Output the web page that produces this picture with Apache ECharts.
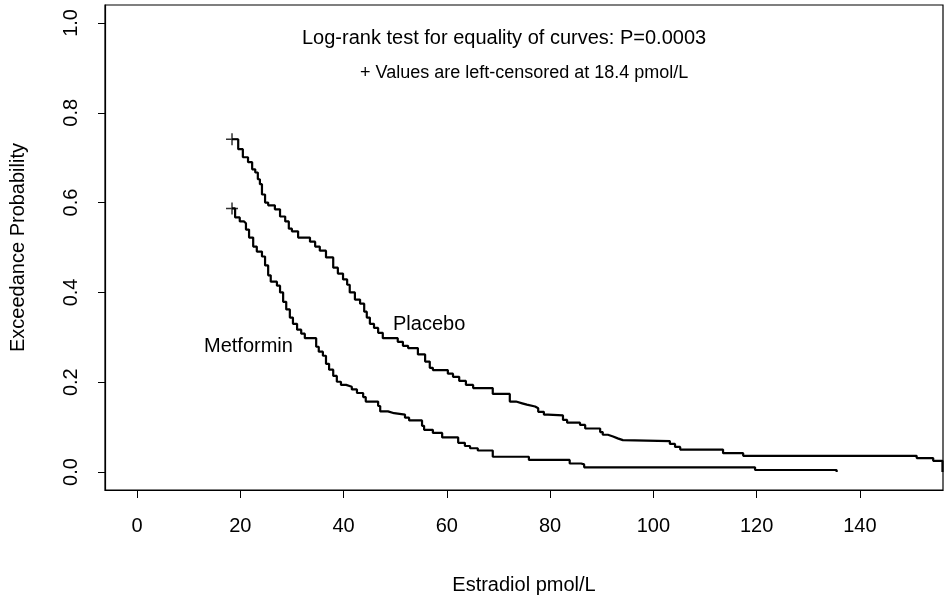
<!DOCTYPE html>
<html>
<head>
<meta charset="utf-8">
<script src="https://cdn.jsdelivr.net/npm/echarts@6/dist/echarts.min.js"></script>
<style>
  html, body { margin: 0; padding: 0; background: #fff; }
  #chart { width: 947px; height: 607px; }
</style>
</head>
<body>
<div id="chart"></div>
<script>
// values (step points: value holds until the next x)
var placeboX = [18.4, 19.6, 20.5, 21.5, 22.3, 22.9, 23.4, 23.8, 24.2, 24.8, 25.4, 26.7, 27.7, 28.7, 29.4, 30.0, 31.2,
    33.5, 34.5, 35.4, 36.6, 38.0, 38.9, 39.9, 40.7, 41.2, 42.2, 43.2, 44.0, 44.5, 45.1, 45.9, 46.7, 47.6,
    50.5, 51.5, 52.5, 54.4, 55.8, 56.7, 57.3, 60.2, 61.2, 62.4, 63.7, 65.1, 68.9, 72.2, 73.4, 74.6, 75.5,
    77.1, 77.7, 78.8, 79.6, 82.5, 83.3, 85.8, 86.8, 89.7, 90.2, 91.2, 92.2, 93.1, 94.1, 103.2, 104.2, 105.2,
    113.5, 117.4, 151.0, 154.2, 156.0];
var placeboY = [0.741, 0.719, 0.701, 0.690, 0.674, 0.667, 0.652, 0.641, 0.618, 0.600, 0.594, 0.585, 0.569, 0.558, 0.542, 0.536, 0.522,
    0.513, 0.502, 0.493, 0.478, 0.455, 0.442, 0.429, 0.417, 0.400, 0.384, 0.375, 0.357, 0.344, 0.330, 0.321, 0.310, 0.298,
    0.290, 0.281, 0.276, 0.262, 0.246, 0.232, 0.227, 0.219, 0.212, 0.203, 0.194, 0.187, 0.174, 0.157, 0.153, 0.150, 0.146,
    0.142, 0.134, 0.128, 0.126, 0.116, 0.110, 0.105, 0.097, 0.089, 0.083, 0.079, 0.075, 0.071, 0.069, 0.0625, 0.056, 0.050,
    0.042, 0.036, 0.031, 0.025, 0.0];

var metforminX = [18.4, 19.0, 19.9, 20.7, 21.1, 21.7, 22.5, 23.2, 24.2, 24.8, 25.4, 25.9, 27.1, 27.7, 28.3, 28.9, 29.6,
    30.2, 31.0, 31.8, 32.5, 34.7, 35.2, 36.0, 36.6, 37.2, 38.0, 38.7, 39.5, 40.5, 41.6, 42.6, 43.8, 44.3,
    46.7, 47.1, 48.6, 49.8, 51.9, 52.7, 55.2, 55.6, 57.3, 59.1, 62.2, 63.5, 64.5, 66.0, 68.9, 75.9, 83.8,
    86.0, 86.6, 119.7, 135.5];
var metforminY = [0.587, 0.567, 0.558, 0.554, 0.540, 0.522, 0.502, 0.491, 0.480, 0.460, 0.438, 0.424, 0.415, 0.400, 0.379, 0.362, 0.344,
    0.330, 0.317, 0.308, 0.298, 0.279, 0.268, 0.259, 0.241, 0.228, 0.214, 0.201, 0.194, 0.190, 0.184, 0.176, 0.167, 0.157,
    0.147, 0.135, 0.131, 0.128, 0.121, 0.115, 0.103, 0.094, 0.087, 0.077, 0.065, 0.058, 0.053, 0.048, 0.034, 0.027, 0.019,
    0.017, 0.0105, 0.0045, 0.0];

// left-censored points
var censorX = [18.4, 18.4];
var censorY = [0.741, 0.587];

var xTicks = [0, 20, 40, 60, 80, 100, 120, 140];
var yTicks = [0, 0.2, 0.4, 0.6, 0.8, 1.0];

function pairs(xs, ys) {
    return xs.map(function (x, i) { return [x, ys[i]]; });
}

var font = 'Liberation Sans, Arial, sans-serif';
var myChart = echarts.init(document.getElementById('chart'));

var option = {
    animation: false,
    backgroundColor: '#fff',
    grid: {
        left: 105, right: 4, top: 5, bottom: 117,
        show: true, borderColor: '#000', borderWidth: 1.2, backgroundColor: 'transparent'
    },
    xAxis: {
        type: 'value',
        min: -6.2, max: 156.1,
        name: 'Estradiol pmol/L',
        nameLocation: 'middle',
        nameGap: 85,
        nameTextStyle: { color: '#000', fontSize: 20, fontFamily: font },
        splitLine: { show: false },
        axisLine: { show: true, onZero: false, lineStyle: { color: '#000', width: 1.2 } },
        axisTick: { show: true, length: 8, customValues: xTicks, lineStyle: { color: '#000', width: 1 } },
        axisLabel: {
            customValues: xTicks, margin: 26, color: '#000', fontSize: 20, fontFamily: font
        }
    },
    yAxis: {
        type: 'value',
        min: -0.04, max: 1.04,
        name: 'Exceedance Probability',
        nameLocation: 'middle',
        nameGap: 77,
        nameRotate: 90,
        nameTextStyle: { color: '#000', fontSize: 20, fontFamily: font },
        splitLine: { show: false },
        axisLine: { show: true, onZero: false, lineStyle: { color: '#000', width: 1.2 } },
        axisTick: { show: true, length: 7, customValues: yTicks, lineStyle: { color: '#000', width: 1 } },
        axisLabel: {
            customValues: yTicks, rotate: 90, margin: 24, color: '#000', fontSize: 20, fontFamily: font,
            formatter: function (v) { return v.toFixed(1); }
        }
    },
    graphic: [
        { type: 'text', left: 302, top: 28, style: { text: 'Log-rank test for equality of curves: P=0.0003', fill: '#000', font: '20px ' + font } },
        { type: 'text', left: 360, top: 64, style: { text: '+ Values are left-censored at 18.4 pmol/L', fill: '#000', font: '18px ' + font } },
        { type: 'text', left: 393, top: 314, style: { text: 'Placebo', fill: '#000', font: '20px ' + font } },
        { type: 'text', left: 204, top: 336, style: { text: 'Metformin', fill: '#000', font: '20px ' + font } }
    ],
    series: [
        {
            name: 'Placebo', type: 'line', step: 'end', showSymbol: false,
            data: pairs(placeboX, placeboY),
            lineStyle: { color: '#000', width: 2.2 }
        },
        {
            name: 'Metformin', type: 'line', step: 'end', showSymbol: false,
            data: pairs(metforminX, metforminY),
            lineStyle: { color: '#000', width: 2.2 }
        },
        {
            name: 'Censored', type: 'scatter',
            data: pairs(censorX, censorY),
            symbol: 'path://M5,0L5,10M0,5L10,5',
            symbolSize: 12,
            itemStyle: { color: 'transparent', borderColor: '#000', borderWidth: 1.5 }
        }
    ]
};

myChart.setOption(option);
</script>
</body>
</html>
